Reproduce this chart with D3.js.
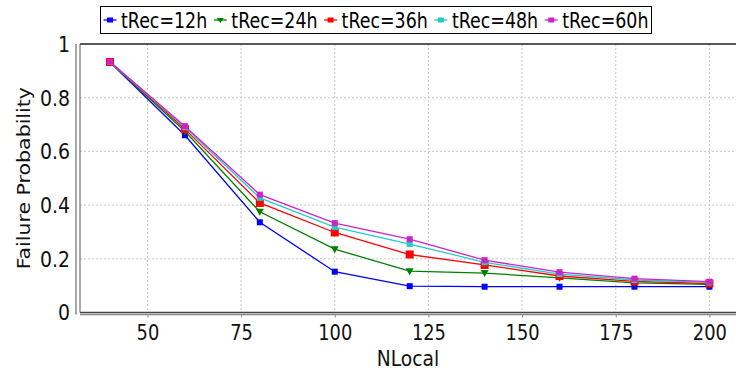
<!DOCTYPE html>
<html><head><meta charset="utf-8">
<script src="https://cdn.jsdelivr.net/npm/d3@7"></script>
<style>body{margin:0;background:#fff}svg{display:block}text{font-family:"DejaVu Sans",sans-serif}</style>
</head><body><svg id="c" width="736" height="376"></svg>
<script>
const nlocal = [40, 60, 80, 100, 120, 140, 160, 180, 200];
const seriesNames = ["tRec=12h", "tRec=24h", "tRec=36h", "tRec=48h", "tRec=60h"];
const tRec12 = [0.932, 0.660, 0.336, 0.152, 0.098, 0.096, 0.096, 0.096, 0.096];
const tRec24 = [0.933, 0.675, 0.375, 0.236, 0.154, 0.147, 0.129, 0.110, 0.105];
const tRec36 = [0.933, 0.683, 0.408, 0.298, 0.216, 0.177, 0.136, 0.116, 0.108];
const tRec48 = [0.933, 0.690, 0.427, 0.318, 0.255, 0.187, 0.143, 0.121, 0.112];
const tRec60 = [0.934, 0.694, 0.439, 0.333, 0.273, 0.195, 0.150, 0.126, 0.115];
const xTicks = [50, 75, 100, 125, 150, 175, 200];
const yTicks = [0, 0.2, 0.4, 0.6, 0.8, 1];
const colors = ["#0000ff", "#008000", "#ff0000", "#22cccc", "#cc22cc"];
const shapes = ["square", "tri", "bigsquare", "square", "square"];
const allSeries = [tRec12, tRec24, tRec36, tRec48, tRec60];

const svg = d3.select("#c");
const L = 80, R = 736, T = 44, B = 312.5;
const x = d3.scaleLinear().domain([32, 207.1]).range([L, R]);
const y = d3.scaleLinear().domain([0, 1]).range([B, T]);
const SX = 0.85;
const SY = 0.9;

// gridlines
const grid = svg.append("g");
grid.selectAll(".vg").data(xTicks).join("line")
  .attr("x1", d => x(d)).attr("x2", d => x(d)).attr("y1", T).attr("y2", B)
  .attr("stroke", "#c8c8c8").attr("stroke-dasharray", "2,2").attr("stroke-width", 1);
grid.selectAll(".hg").data(yTicks.filter(v => v > 0 && v < 1)).join("line")
  .attr("x1", L).attr("x2", R).attr("y1", d => y(d)).attr("y2", d => y(d))
  .attr("stroke", "#c8c8c8").attr("stroke-dasharray", "2,2").attr("stroke-width", 1);

// frame
svg.append("line").attr("x1", L).attr("x2", R).attr("y1", T).attr("y2", T).attr("stroke", "#222").attr("stroke-width", 1.5);
svg.append("line").attr("x1", L).attr("x2", L).attr("y1", T).attr("y2", B).attr("stroke", "#555").attr("stroke-width", 1);
svg.append("line").attr("x1", L).attr("x2", R).attr("y1", B).attr("y2", B).attr("stroke", "#444").attr("stroke-width", 1.5);

// axes
const yAxis = d3.axisLeft(y).tickValues(yTicks).tickFormat(d => d3.format("")(d)).tickSize(0).tickPadding(6);
const gy = svg.append("g").attr("transform", "translate(76,0)").call(yAxis);
gy.select(".domain").attr("stroke", "#888").attr("stroke-width", 1.5).attr("d", `M0,${T}V${B + 2}`);
gy.selectAll("text").attr("font-size", 21).attr("fill", "#111")
  .attr("transform", `translate(${-6 * (1 - SY)},0) scale(${SY},1)`)
  .attr("dy", "0.35em");

const xAxis = d3.axisBottom(x).tickValues(xTicks).tickSize(3).tickPadding(8);
const gx = svg.append("g").attr("transform", `translate(0,${B + 2})`).call(xAxis);
gx.select(".domain").attr("stroke", "#888").attr("stroke-width", 1.5).attr("d", `M${L},0H${R}`);
gx.selectAll(".tick line").attr("stroke", "#888");
gx.selectAll("text").attr("font-size", 21).attr("fill", "#111")
  .attr("transform", `scale(${SX},1)`);
gx.selectAll(".tick").each(function(){
  const tr = d3.select(this).attr("transform");
  const m = /translate\(([-\d.]+)/.exec(tr); const px = +m[1];
  d3.select(this).attr("transform", `translate(0,0)`);
  d3.select(this).select("line").attr("x1", px).attr("x2", px);
  d3.select(this).select("text").attr("x", px / SX);
});

// axis titles
svg.append("text").attr("x", (L + R) / 2).attr("y", 366).attr("text-anchor", "middle")
  .attr("font-size", 22).attr("fill", "#111")
  .attr("transform", `translate(${(L + R) / 2 * (1 - SX)},0) scale(${SX},1)`).text("NLocal");
svg.append("text").attr("transform", `translate(30,${(T + B) / 2}) scale(${SX},1) rotate(-90)`)
  .attr("text-anchor", "middle").attr("font-size", 20.5).attr("fill", "#111").text("Failure Probability");

// series
const line = d3.line().x((d, i) => x(nlocal[i])).y(d => y(d));
function marker(g, shape, color, cx, cy) {
  if (shape === "tri") {
    g.append("path").attr("d", `M${cx-4},${cy-3}L${cx+4},${cy-3}L${cx},${cy+4}Z`).attr("fill", color);
  } else {
    const s = shape === "bigsquare" ? 8 : 6;
    g.append("rect").attr("x", cx - s/2).attr("y", cy - s/2).attr("width", s).attr("height", s).attr("fill", color);
  }
}
allSeries.forEach((vals, k) => {
  const g = svg.append("g");
  g.append("path").attr("d", line(vals)).attr("fill", "none").attr("stroke", colors[k]).attr("stroke-width", 1.3);
  vals.forEach((v, i) => marker(g, shapes[k], colors[k], x(nlocal[i]), y(v)));
});

// legend
const lg = svg.append("g");
lg.append("rect").attr("x", 100.5).attr("y", 6.5).attr("width", 551).attr("height", 27)
  .attr("fill", "#fff").attr("stroke", "#000").attr("stroke-width", 1);
seriesNames.forEach((name, k) => {
  const x0 = 103.5 + k * 110.3;
  lg.append("line").attr("x1", x0).attr("x2", x0 + 13).attr("y1", 20).attr("y2", 20)
    .attr("stroke", colors[k]).attr("stroke-width", 1.3);
  const s = lg.append("g");
  if (shapes[k] === "tri") s.append("path").attr("d", `M${x0+3},${18}L${x0+10},${18}L${x0+6.5},${23}Z`).attr("fill", colors[k]);
  else s.append("rect").attr("x", x0 + 3.5).attr("y", 17.5).attr("width", 6).attr("height", 5).attr("fill", colors[k]);
  lg.append("text").attr("x", (x0 + 17.5) / SX).attr("y", 28).attr("font-size", 20.5).attr("fill", "#000")
    .attr("transform", `scale(${SX},1)`).text(name);
});
</script></body></html>
